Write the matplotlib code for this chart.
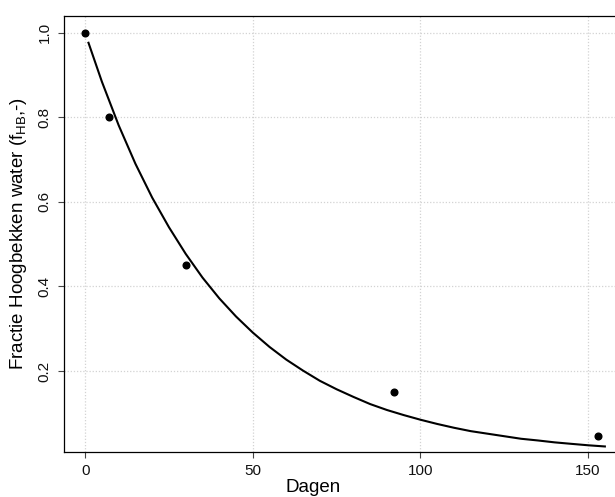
import matplotlib
matplotlib.use("Agg")
import matplotlib.pyplot as plt

plt.rcParams['font.family'] = ['Liberation Sans', 'DejaVu Sans']
plt.rcParams['mathtext.fontset'] = 'custom'
plt.rcParams['mathtext.rm'] = 'Liberation Sans'
plt.rcParams['mathtext.it'] = 'Liberation Sans'

# Observed points
days = [0, 7, 30, 92, 153]
fraction = [1.0, 0.8, 0.45, 0.15, 0.047]

# Fitted curve
curve_days = [1, 5, 10, 15, 20, 25, 30, 35, 40, 45, 50, 55, 60, 65, 70, 75, 80, 85, 90,
              95, 100, 105, 110, 115, 120, 125, 130, 135, 140, 145, 150, 155]
curve_frac = [0.976, 0.884, 0.781, 0.690, 0.610, 0.540, 0.477, 0.421, 0.372, 0.329,
              0.291, 0.257, 0.227, 0.201, 0.177, 0.157, 0.139, 0.122, 0.108, 0.096,
              0.085, 0.075, 0.066, 0.058, 0.052, 0.046, 0.040, 0.036, 0.0315, 0.028,
              0.0246, 0.0218]

x_ticks = [0, 50, 100, 150]
y_ticks = [0.2, 0.4, 0.6, 0.8, 1.0]
x_label = "Dagen"
y_label = r"Fractie Hoogbekken water (f$_{\mathrm{HB}}$,-)"

fig = plt.figure(figsize=(6.15, 4.97), dpi=100)
W, H = 615, 497
left, right, top, bottom = 64, 626, 15.7, 452.3
ax = fig.add_axes([left / W, 1 - bottom / H, (right - left) / W, (bottom - top) / H])

ax.set_xlim(-6.3, 161.3)
ax.set_ylim(0.008, 1.040)

ax.set_xticks(x_ticks)
ax.set_yticks(y_ticks)
ax.set_xticklabels([str(t) for t in x_ticks])
ax.set_yticklabels([f"{t:.1f}" for t in y_ticks], rotation=90, va='center')

ax.grid(True, color='#d3d3d3', linestyle=(0, (1, 1.5)), linewidth=0.9)
ax.set_axisbelow(True)

ax.plot(curve_days, curve_frac, color='black', linewidth=1.5, zorder=3)
ax.plot(days, fraction, 'o', color='black', markersize=4.8, zorder=4)

for s in ax.spines.values():
    s.set_linewidth(0.9)
    s.set_color('black')

ax.tick_params(axis='both', direction='out', length=4, width=0.8, color='#444444',
               labelsize=11, labelcolor='#111111')
ax.tick_params(axis='x', pad=4.5)
ax.tick_params(axis='y', pad=5)

fig.text(313 / W, 1 - 491.5 / H, x_label, ha='center', va='baseline', fontsize=13.5)
fig.text(19 / W, 1 - 233.5 / H, y_label, ha='center', va='center', rotation=90, fontsize=13.5)

fig.savefig("out.png", dpi=100)
